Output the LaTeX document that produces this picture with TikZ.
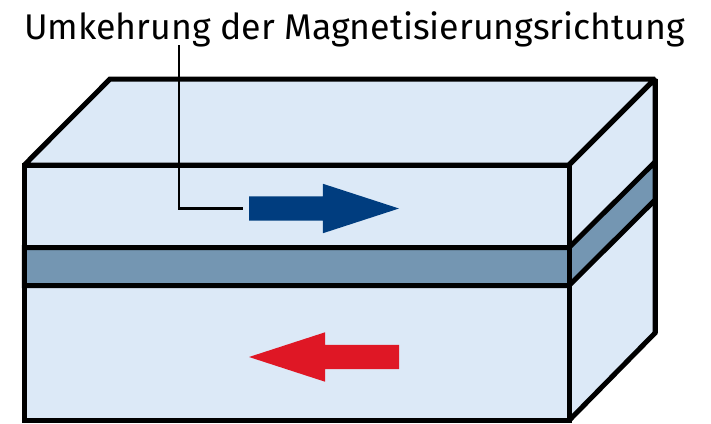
\documentclass[tikz,border=0pt]{standalone}
\usepackage{fontspec}
\setmainfont{Fira Sans}
\usetikzlibrary{positioning}
\usetikzlibrary{shapes.arrows}

\begin{document}
\begin{tikzpicture}[x = 1pt, y = -1pt,
                    block/.style = {draw = black,
                                    line width = 5pt,
                                    miter limit = 1.5,
                                    fill = faceblue},
                    band/.style  = {block,
                                    fill = bandblue},
                    magnet/.style = {single arrow,
                                     anchor = tail,
                                     minimum height = 150pt,
                                     single arrow head extend = 12.5pt,
                                     single arrow tip angle = 36,
                                     single arrow head indent = 0pt,
                                     inner xsep = 0pt,
                                     inner ysep = 12pt,
                                     outer sep = 0pt},
                    leader/.style = {draw = black,
                                     line width = 2.3pt}]
\definecolor{faceblue}{HTML}{DCE9F7}
\definecolor{bandblue}{HTML}{7496B2}
\definecolor{upblue}{HTML}{003D7F}
\definecolor{downred}{HTML}{DF1725}

\useasboundingbox (0,0) rectangle (711,423);

\coordinate (A) at (24.3,165);
\coordinate (B) at (569,165);
\coordinate (C) at (569,420.5);
\coordinate (D) at (24.3,420.5);
\coordinate (E) at (110,79);
\coordinate (F) at (655,79);
\coordinate (G) at (655,333);

\path[block] (A) -- (E) -- (F) -- (B) -- cycle;
\path[block] (B) -- (F) -- (G) -- (C) -- cycle;
\path[block] (A) rectangle (C);

\path[band] (24.3,247.5) -- (569,247.5) -- (655,162) -- (655,200) -- (569,285.5) -- (24.3,285.5) -- cycle;
\draw[line width = 5pt] (B) -- (C);
\draw[line width = 5pt] (A) -- (D);
\draw[line width = 5pt] (F) -- (G);

\node[magnet, fill = upblue] (up) at (249,208.5) {};
\node[magnet, fill = downred, shape border rotate = 180] (down) at (399,357) {};

\node[anchor = base west, inner sep = 0pt] (title) at (24,39.5)
     {\fontsize{35.7}{36}\selectfont Umkehrung der Magnetisierungsrichtung};

\coordinate (foot) at (179,45);
\draw[leader, shorten >= 6pt] (foot) |- (up.tail);

\end{tikzpicture}
\end{document}
